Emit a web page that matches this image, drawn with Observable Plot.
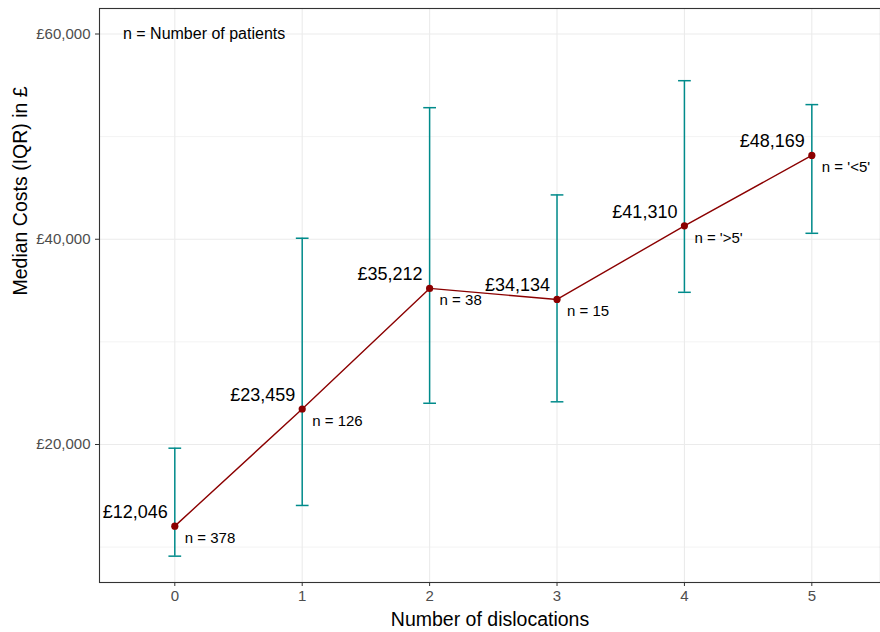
<!DOCTYPE html>
<html>
<head>
<meta charset="utf-8">
<script src="https://cdn.jsdelivr.net/npm/d3@7"></script>
<script src="https://cdn.jsdelivr.net/npm/@observablehq/plot@0.6"></script>
<style>
  html, body { margin: 0; padding: 0; background: #fff; }
</style>
</head>
<body>
<div id="chart"></div>
<script>
const dislocations = [0, 1, 2, 3, 4, 5];
const medianCost = [12046, 23459, 35212, 34134, 41310, 48169];
const q1Cost = [9120, 14060, 24020, 24160, 34830, 40580];
const q3Cost = [19640, 40100, 52820, 44320, 55450, 53120];
const nLabels = ["n = 378", "n = 126", "n = 38", "n = 15", "n = '>5'", "n = '<5'"];
const yMajor = [20000, 40000, 60000];
const yMinor = [10000, 30000, 50000];

const data = dislocations.map((x, i) => ({
  x, med: medianCost[i], lo: q1Cost[i], hi: q3Cost[i], n: nLabels[i]
}));
const fmt = v => "£" + d3.format(",")(v);
const capHalf = 0.05;
const font = "'Liberation Sans', Arial, sans-serif";

const chart = Plot.plot({
  width: 880,
  height: 632,
  marginLeft: 99,
  marginRight: 0,
  marginTop: 8,
  marginBottom: 50,
  style: { fontFamily: font, fontSize: "15px", background: "#fff" },
  x: { domain: [-0.591, 5.539], ticks: dislocations },
  y: { domain: [6553, 62485], ticks: yMajor },
  marks: [
    Plot.ruleY(yMinor, { stroke: "#EBEBEB", strokeWidth: 0.6 }),
    Plot.ruleY(yMajor, { stroke: "#EBEBEB", strokeWidth: 1.1 }),
    Plot.ruleX(dislocations, { stroke: "#EBEBEB", strokeWidth: 1.1 }),
    Plot.ruleX(data, { x: "x", y1: "lo", y2: "hi", stroke: "#008B8B", strokeWidth: 1.5 }),
    Plot.link(data, { x1: d => d.x - capHalf, x2: d => d.x + capHalf, y1: "hi", y2: "hi", stroke: "#008B8B", strokeWidth: 1.5 }),
    Plot.link(data, { x1: d => d.x - capHalf, x2: d => d.x + capHalf, y1: "lo", y2: "lo", stroke: "#008B8B", strokeWidth: 1.5 }),
    Plot.line(data, { x: "x", y: "med", stroke: "#8B0000", strokeWidth: 1.4 }),
    Plot.dot(data, { x: "x", y: "med", r: 3.6, fill: "#8B0000", stroke: "none" }),
    Plot.text(data, { x: "x", y: "med", text: d => fmt(d.med), textAnchor: "end", dx: -7, dy: -14, fontSize: 18, fill: "#000" }),
    Plot.text(data, { x: "x", y: "med", text: "n", textAnchor: "start", dx: 10, dy: 12, fontSize: 15, fill: "#000" }),
    Plot.text(["n = Number of patients"], { x: 0.23, y: 60000, fontSize: 16, fill: "#000" }),
    Plot.frame({ stroke: "#333333", strokeWidth: 1.1 }),
    Plot.axisX({ ticks: dislocations, tickFormat: d3.format("d"), tickSize: 4, tickPadding: 4, fontSize: 15, color: "#4D4D4D", stroke: "#333333", label: null }),
    Plot.axisY({ ticks: yMajor, tickFormat: fmt, tickSize: 4, tickPadding: 5, fontSize: 15, color: "#4D4D4D", stroke: "#333333", label: null }),
    Plot.text(["Number of dislocations"], { frameAnchor: "bottom", dy: 43, fontSize: 19.5, fill: "#000" }),
    Plot.text(["Median Costs (IQR) in £"], { frameAnchor: "left", dx: -79, rotate: -90, fontSize: 19.5, fill: "#000" })
  ]
});
document.getElementById("chart").appendChild(chart);
</script>
</body>
</html>
